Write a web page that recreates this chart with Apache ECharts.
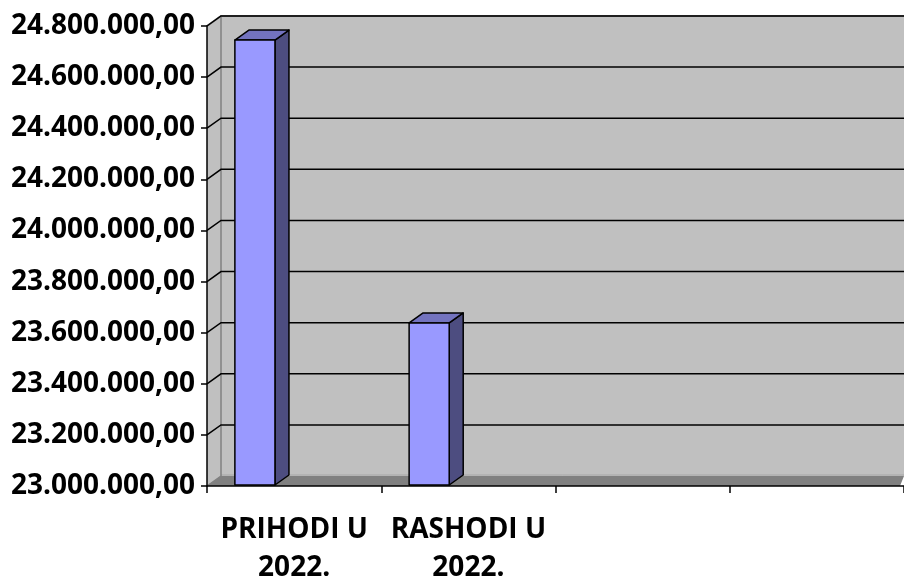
<!DOCTYPE html>
<html>
<head>
<meta charset="utf-8">
<style>html,body{margin:0;padding:0;background:#fff}#c{width:904px;height:577px}</style>
<script src="https://cdn.jsdelivr.net/npm/echarts@6/dist/echarts.min.js"></script>
</head>
<body>
<div id="c"></div>
<script>
const categories = ['PRIHODI U\n2022.', 'RASHODI U\n2022.', '', ''];
const values = [24745000, 23638000];
const yMin = 23000000;
const yMax = 24800000;
const yStep = 200000;
const yTicks = [23000000, 23200000, 23400000, 23600000, 23800000, 24000000, 24200000, 24400000, 24600000, 24800000];

const DX = 14, DY = -10;
const FONT = '"Open Sans", "Noto Sans", sans-serif';

function fmt(v) {
  return String(Math.round(v)).replace(/\B(?=(\d{3})+(?!\d))/g, '.') + ',00';
}

const chart = echarts.init(document.getElementById('c'), null, {renderer: 'canvas'});

function renderWalls(params, api) {
  const cs = params.coordSys;
  const x0 = cs.x, x1 = cs.x + cs.width, yT = cs.y, yB = cs.y + cs.height;
  const kids = [];
  kids.push({type: 'polygon', shape: {points: [[x0, yT], [x0 + DX, yT + DY], [x0 + DX, yB + DY], [x0, yB]]},
    style: {fill: '#C0C0C0', stroke: null}});
  kids.push({type: 'rect', shape: {x: x0 + DX, y: yT + DY, width: x1 - x0 - DX, height: cs.height},
    style: {fill: '#C0C0C0'}});
  kids.push({type: 'polygon', shape: {points: [[x0, yB], [x0 + DX, yB + DY], [x1, yB + DY], [x1 - 4, yB]]},
    style: {fill: '#808080'}});
  kids.push({type: 'line', shape: {x1: x0 + DX, y1: yB + DY - 1, x2: x1, y2: yB + DY - 1}, style: {stroke: '#A6A6A6', lineWidth: 1}});
  kids.push({type: 'polyline', shape: {points: [[x0, yT], [x0 + DX, yT + DY], [x1, yT + DY]]}, style: {stroke: '#808080', lineWidth: 2, fill: null}});
  kids.push({type: 'polyline', shape: {points: [[x0 + DX, yT + DY], [x0 + DX, yB + DY], [x0, yB]]}, style: {stroke: '#808080', lineWidth: 1.5, fill: null}});
  yTicks.forEach(function (v) {
    if (v === yMin) return;
    const y = api.coord([0, v])[1];
    kids.push({type: 'polyline', shape: {points: [[x0, y], [x0 + DX, y + DY], [x1, y + DY]]},
      style: {stroke: '#000', lineWidth: 1.5, fill: null}});
  });
  return {type: 'group', children: kids};
}

function renderBar(params, api) {
  const cat = api.value(0), val = api.value(1);
  const top = api.coord([cat, val]);
  const base = api.coord([cat, yMin]);
  const slot = api.size([1, 0])[0];
  const l = top[0] - 0.34 * slot;
  const r = l + 0.23 * slot;
  const yt = top[1], yb = base[1] - 1;
  const line = {stroke: '#000', lineWidth: 1.5, lineJoin: 'round'};
  return {type: 'group', children: [
    {type: 'polygon', shape: {points: [[r, yt], [r + DX, yt + DY], [r + DX, yb + DY], [r, yb]]},
      style: Object.assign({fill: '#4D4D80'}, line)},
    {type: 'polygon', shape: {points: [[l, yt], [l + DX, yt + DY], [r + DX, yt + DY], [r, yt]]},
      style: Object.assign({fill: '#7373BF'}, line)},
    {type: 'rect', shape: {x: l, y: yt, width: r - l, height: yb - yt},
      style: Object.assign({fill: '#9999FF'}, line)}
  ]};
}

chart.setOption({
  animation: false,
  backgroundColor: '#fff',
  grid: {left: 207, right: 0, top: 26, bottom: 91, containLabel: false, outerBoundsMode: 'none'},
  xAxis: {
    type: 'category',
    data: categories,
    boundaryGap: true,
    z: 10,
    axisLine: {lineStyle: {color: '#000', width: 1.5}},
    axisTick: {show: true, interval: 0, length: 7, lineStyle: {color: '#000', width: 1.5}},
    axisLabel: {interval: 0, color: '#000', fontFamily: FONT, fontWeight: 'bold', fontSize: 28, lineHeight: 38, margin: 25}
  },
  yAxis: {
    type: 'value',
    min: yMin, max: yMax, interval: yStep,
    z: 10,
    axisLine: {show: true, lineStyle: {color: '#000', width: 1.5}},
    axisTick: {show: true, length: 6, lineStyle: {color: '#000', width: 1.5}},
    splitLine: {show: false},
    axisLabel: {color: '#000', fontFamily: FONT, fontWeight: 'bold', fontSize: 28, margin: 12, formatter: fmt}
  },
  series: [
    {type: 'custom', name: 'walls', silent: true, z: 1, renderItem: renderWalls, data: [[0, yMin]], clip: false},
    {type: 'custom', name: 'bars', silent: true, z: 3, renderItem: renderBar,
      data: values.map(function (v, i) { return [i, v]; }), clip: false}
  ]
});
</script>
</body>
</html>
